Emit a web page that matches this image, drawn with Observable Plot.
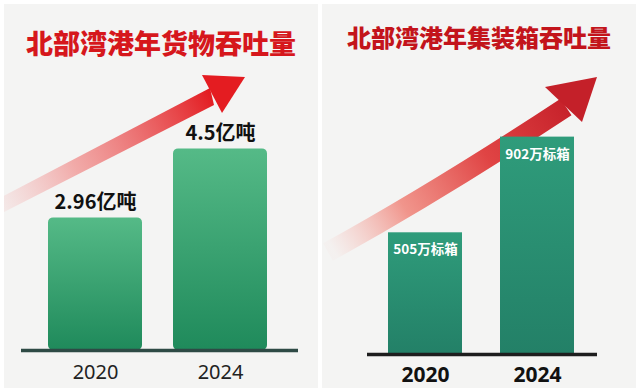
<!DOCTYPE html>
<html>
<head>
<meta charset="utf-8">
<script src="https://cdn.jsdelivr.net/npm/d3@7"></script>
<script src="https://cdn.jsdelivr.net/npm/@observablehq/plot@0.6"></script>
<style>
  html, body { margin: 0; padding: 0; background: #ffffff; }
  body { width: 640px; height: 391px; position: relative; overflow: hidden; font-family: "Noto Sans CJK SC", "Noto Sans", sans-serif; }
  .panel { position: absolute; top: 4px; width: 314px; height: 384px; background: #f4f4f3; overflow: hidden; }
  .title { position: absolute; left: 0; width: 100%; text-align: center; font-weight: 900; line-height: 1; white-space: nowrap; font-family: "Noto Sans CJK SC", sans-serif; }
  .panel svg { position: absolute; left: 0; top: 0; }
</style>
</head>
<body>
<div class="panel" id="p1" style="left:4px;">
  <div class="title" style="top:25px;font-size:27px;color:#d6171c;">北部湾港年货物吞吐量</div>
</div>
<div class="panel" id="p2" style="left:322px;">
  <div class="title" style="top:21px;font-size:24px;color:#c3141b;">北部湾港年集装箱吞吐量</div>
</div>
<script>
// ---- data ----
const years = ["2020", "2024"];
const cargoValues = [2.96, 4.5];               // 亿吨
const cargoLabels = ["2.96亿吨", "4.5亿吨"];
const containerValues = [505, 902];            // 万标箱
const containerLabels = ["505万标箱", "902万标箱"];

const cargo = years.map((y, i) => ({year: y, value: cargoValues[i], label: cargoLabels[i]}));
const container = years.map((y, i) => ({year: y, value: containerValues[i], label: containerLabels[i]}));

const ns = "http://www.w3.org/2000/svg";

// decorative gradient defs + trend arrow (drawn behind the bars)
function leftDecor() {
  const g = d3.create("svg:g");
  const defs = g.append("defs");
  const bg = defs.append("linearGradient").attr("id", "barL").attr("x1", 0).attr("y1", 0).attr("x2", 0).attr("y2", 1);
  bg.append("stop").attr("offset", 0).attr("stop-color", "#55ba87");
  bg.append("stop").attr("offset", 1).attr("stop-color", "#1f8a5b");
  const ag = defs.append("linearGradient").attr("id", "arrL").attr("gradientUnits", "userSpaceOnUse")
    .attr("x1", -4).attr("y1", 196).attr("x2", 206).attr("y2", 90);
  ag.append("stop").attr("offset", 0).attr("stop-color", "#f3a6a6").attr("stop-opacity", 0.15);
  ag.append("stop").attr("offset", 0.35).attr("stop-color", "#f08a88").attr("stop-opacity", 0.7);
  ag.append("stop").attr("offset", 1).attr("stop-color", "#e31d22");
  g.append("path").attr("d", "M-6,195 L-4,210 L210,101 L206,84 Z").attr("fill", "url(#arrL)");
  g.append("path").attr("d", "M198,71 L241,73 L218,109 Z").attr("fill", "#e41c21");
  return g.node();
}

function rightDecor() {
  const g = d3.create("svg:g");
  const defs = g.append("defs");
  const bg = defs.append("linearGradient").attr("id", "barR").attr("x1", 0).attr("y1", 0).attr("x2", 0).attr("y2", 1);
  bg.append("stop").attr("offset", 0).attr("stop-color", "#2f9c7b");
  bg.append("stop").attr("offset", 1).attr("stop-color", "#238067");
  const ag = defs.append("linearGradient").attr("id", "arrR").attr("gradientUnits", "userSpaceOnUse")
    .attr("x1", 10).attr("y1", 244).attr("x2", 245).attr("y2", 98);
  ag.append("stop").attr("offset", 0).attr("stop-color", "#f6b0a8").attr("stop-opacity", 0.05);
  ag.append("stop").attr("offset", 0.3).attr("stop-color", "#f08a80").attr("stop-opacity", 0.9);
  ag.append("stop").attr("offset", 0.65).attr("stop-color", "#e04444");
  ag.append("stop").attr("offset", 1).attr("stop-color", "#c6212a");
  g.append("path").attr("d", "M6,248 Q118,186 244,103").attr("fill", "none")
    .attr("stroke", "url(#arrR)").attr("stroke-width", 20);
  g.append("path").attr("d", "M223,83 L275,73 L260,118 Z").attr("fill", "#c42029");
  return g.node();
}

const left = Plot.plot({
  width: 314, height: 384,
  marginLeft: 18, marginRight: 26, marginTop: 122, marginBottom: 38,
  style: {background: "transparent", overflow: "hidden"},
  x: {domain: years, paddingInner: 0.25, paddingOuter: 0.2, axis: null},
  y: {domain: [0, 5], axis: null},
  marks: [
    leftDecor,
    Plot.barY(cargo, {x: "year", y: "value", fill: "url(#barL)", rx: 5}),
    Plot.ruleY([0], {stroke: "#2e4a45", strokeWidth: 3.5, insetLeft: -1, insetRight: -6}),
    Plot.text(cargo, {x: "year", y: "value", text: "label", lineAnchor: "bottom", dy: -9,
      fontSize: 20, fontWeight: 700, fill: "#111", fontFamily: "Noto Sans CJK SC"}),
    Plot.text(cargo, {x: "year", text: "year", frameAnchor: "bottom", lineAnchor: "top", dy: 14,
      fontSize: 20, fill: "#222", fontFamily: "Noto Sans"})
  ]
});
document.getElementById("p1").prepend(left);

const right = Plot.plot({
  width: 314, height: 384,
  marginLeft: 32, marginRight: 28, marginTop: 109, marginBottom: 34,
  style: {background: "transparent", overflow: "hidden"},
  x: {domain: years, paddingInner: 0.34, paddingOuter: 0.3, axis: null},
  y: {domain: [0, 1000], axis: null},
  marks: [
    rightDecor,
    Plot.barY(container, {x: "year", y: "value", fill: "url(#barR)"}),
    Plot.ruleY([0], {stroke: "#1e1e1e", strokeWidth: 3.5, insetLeft: 13, insetRight: 11}),
    Plot.text(container, {x: "year", y: "value", text: "label", lineAnchor: "top", dy: 12,
      fontSize: 13.5, fontWeight: 700, fill: "#ffffff", fontFamily: "Noto Sans CJK SC"}),
    Plot.text(container, {x: "year", text: "year", frameAnchor: "bottom", lineAnchor: "top", dy: 13,
      fontSize: 21, fontWeight: 700, fill: "#111", fontFamily: "Noto Sans"})
  ]
});
document.getElementById("p2").prepend(right);
</script>
</body>
</html>
